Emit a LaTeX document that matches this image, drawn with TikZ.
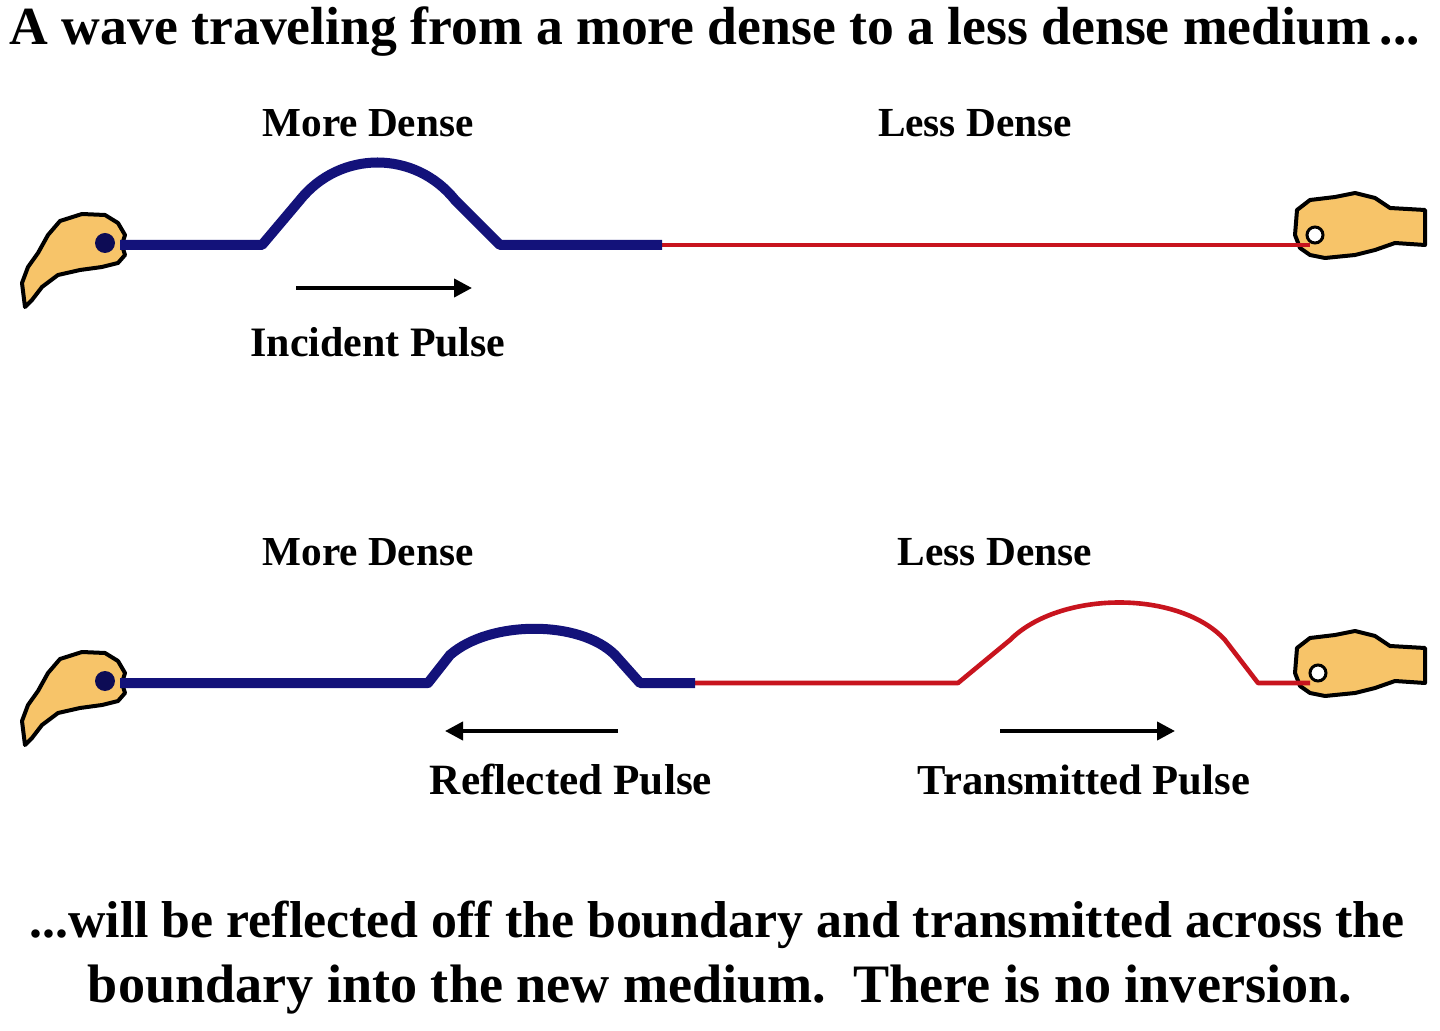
\documentclass[tikz,border=0pt]{standalone}
\usepackage{graphicx}
\usepackage{fontspec}
\setmainfont{Liberation Serif}
\usetikzlibrary{arrows.meta}
\definecolor{dblue}{HTML}{13127A}
\definecolor{rred}{HTML}{C8141E}
\definecolor{skin}{HTML}{F7C469}
\tikzset{
  lbl/.style={inner sep=0pt,font=\bfseries},
  blue rope/.style={draw=dblue,line width=5pt,line join=round},
  red rope/.style={draw=rred,line width=2.3pt,line join=round},
  motion/.style={draw=black,line width=2pt,-{Triangle[length=9pt,width=9pt]}},
  handfill/.style={fill=skin,draw=black,line width=2pt,line join=round}
}
\newcommand{\fitw}[2]{\resizebox{#1\dimexpr0.5pt\relax}{!}{#2}}
\begin{document}
\begin{tikzpicture}[x=0.5pt,y=-0.5pt]
\useasboundingbox (0,0) rectangle (1440,1031);
\fill[white] (0,0) rectangle (1440,1031);
% texts
\node[lbl] (title) at (715,32) {\fitw{1410}{A wave traveling from a more dense to a less dense medium\,...}};
\node[lbl] (md1) at (368,123) {\fitw{211}{More Dense}};
\node[lbl] (ld1) at (975,123) {\fitw{194}{Less Dense}};
\node[lbl] (inc) at (378,342) {\fitw{255}{Incident Pulse}};
\node[lbl] (md2) at (368,552) {\fitw{211}{More Dense}};
\node[lbl] (ld2) at (995,552) {\fitw{194}{Less Dense}};
\node[lbl] (refl) at (571,780) {\fitw{282}{Reflected Pulse}};
\node[lbl] (trans) at (1084,780) {\fitw{332}{Transmitted Pulse}};
\node[lbl] (b1) at (717,925) {\fitw{1375}{...will be reflected off the boundary and transmitted across the}};
\node[lbl] (b2) at (720,990) {\fitw{1264}{boundary into the new medium.\ \ There is no inversion.}};
% hands
\foreach \gx/\gy/\n in {110/245/1,110/683/2}{
  \begin{scope}[shift={(\gx,\gy)}]
  \path[handfill] (-85,62) -- (-88,38) -- (-82,22) -- (-72,8) -- (-62,-10) -- (-50,-24) -- (-28,-31) -- (-5,-30) -- (8,-22) -- (15,-10) -- (12,0) -- (15,10) -- (8,18) -- (-8,22) -- (-30,25) -- (-52,30) -- (-68,42) -- (-78,55) -- cycle;
  \fill[dblue!70!black] (-5,-2) circle (10);
  \end{scope}}
\foreach \gx/\gy in {1315/240,1315/678}{
  \begin{scope}[shift={(\gx,\gy)}]
  \path[handfill] (-20,-5) -- (-18,-30) -- (-5,-40) -- (20,-43) -- (40,-47) -- (60,-42) -- (75,-32) -- (110,-30) -- (110,5) -- (80,3) -- (60,10) -- (40,15) -- (10,18) -- (-5,15) -- (-15,8) -- cycle;
  \end{scope}}
% top ropes
\coordinate (lg1) at (120,245);
\coordinate (bd1) at (662,245);
\coordinate (rg1) at (1310,245);
\draw[red rope] (bd1) -- (rg1);
\draw[blue rope] (lg1) -- (262,245) -- (300,200) .. controls (340,150) and (415,150) .. (455,200) -- (500,245) -- (bd1);
\draw[black,line width=1.5pt,fill=white] (1315,235) circle (8);
% bottom ropes
\coordinate (lg2) at (120,683);
\coordinate (bd2) at (695,683);
\coordinate (rg2) at (1310,683);
\draw[red rope] (bd2) -- (958,683) -- (1010,640) .. controls (1060,590) and (1180,590) .. (1225,640) -- (1258,683) -- (rg2);
\draw[blue rope] (lg2) -- (428,683) -- (450,655) .. controls (490,620) and (580,620) .. (615,655) -- (640,683) -- (bd2);
\draw[black,line width=1.5pt,fill=white] (1318,673) circle (8);
% arrows
\coordinate (a1s) at (296,288); \coordinate (a1e) at (472,288);
\coordinate (a2s) at (618,731); \coordinate (a2e) at (445,731);
\coordinate (a3s) at (1000,731); \coordinate (a3e) at (1175,731);
\draw[motion] (a1s) -- (a1e);
\draw[motion] (a2s) -- (a2e);
\draw[motion] (a3s) -- (a3e);
\end{tikzpicture}
\end{document}
